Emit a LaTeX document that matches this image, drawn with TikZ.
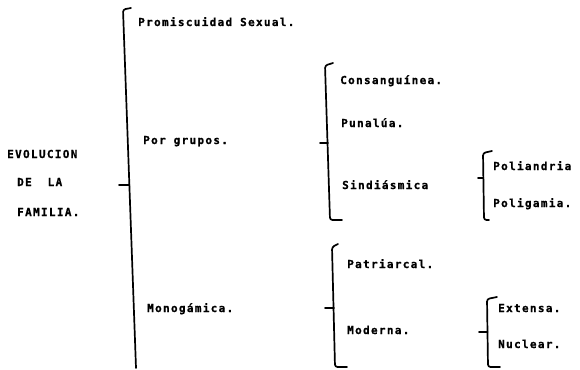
\documentclass[tikz,border=0pt]{standalone}
\usepackage{fontspec}
\newfontfamily\dotfont{DejaVu Sans Mono}[LetterSpace=12,FakeBold=0.8]
\begin{document}
\begin{tikzpicture}[x=1pt,y=-1pt,
  lbl/.style={anchor=base west,inner sep=0pt,font=\dotfont\bfseries\fontsize{11}{13}\selectfont},
  brk/.style={line width=1.7pt,line cap=round,rounded corners=2.5pt}]
\useasboundingbox (0,0) rectangle (580,369);
% texts
\node[lbl] (evo) at (7,158) {EVOLUCION};
\node[lbl] (dela) at (17,186) {DE\ \ LA};
\node[lbl] (fam) at (17,216) {FAMILIA.};
\node[lbl] (prom) at (138,26) {Promiscuidad Sexual.};
\node[lbl] (por) at (143,144) {Por grupos.};
\node[lbl] (mono) at (147,312) {Monogámica.};
\node[lbl] (cons) at (340,84) {Consanguínea.};
\node[lbl] (puna) at (341,127) {Punalúa.};
\node[lbl] (sind) at (342,189) {Sindiásmica};
\node[lbl] (poli) at (493,170) {Poliandria};
\node[lbl] (polg) at (493,207) {Poligamia.};
\node[lbl] (patr) at (347,268) {Patriarcal.};
\node[lbl] (mode) at (347,334) {Moderna.};
\node[lbl] (ext) at (498,312) {Extensa.};
\node[lbl] (nuc) at (498,348) {Nuclear.};
% brackets
\draw[brk] (131,8) -- (123,9.5) -- (136,368);
\draw[brk] (119,185) -- (129.5,185);
\draw[brk] (333,63) -- (325,65.5) -- (330,220) -- (342,220);
\draw[brk] (320,143) -- (328,143);
\draw[brk] (492,151) -- (483,153) -- (484,220) -- (489,220);
\draw[brk] (478,178) -- (483.5,178);
\draw[brk] (338,244) -- (332,247) -- (335,367) -- (347,367);
\draw[brk] (325,308) -- (334,308);
\draw[brk] (497,297) -- (487,299) -- (488,367) -- (500,367);
\draw[brk] (479,332) -- (487.5,332);
\end{tikzpicture}
\end{document}
